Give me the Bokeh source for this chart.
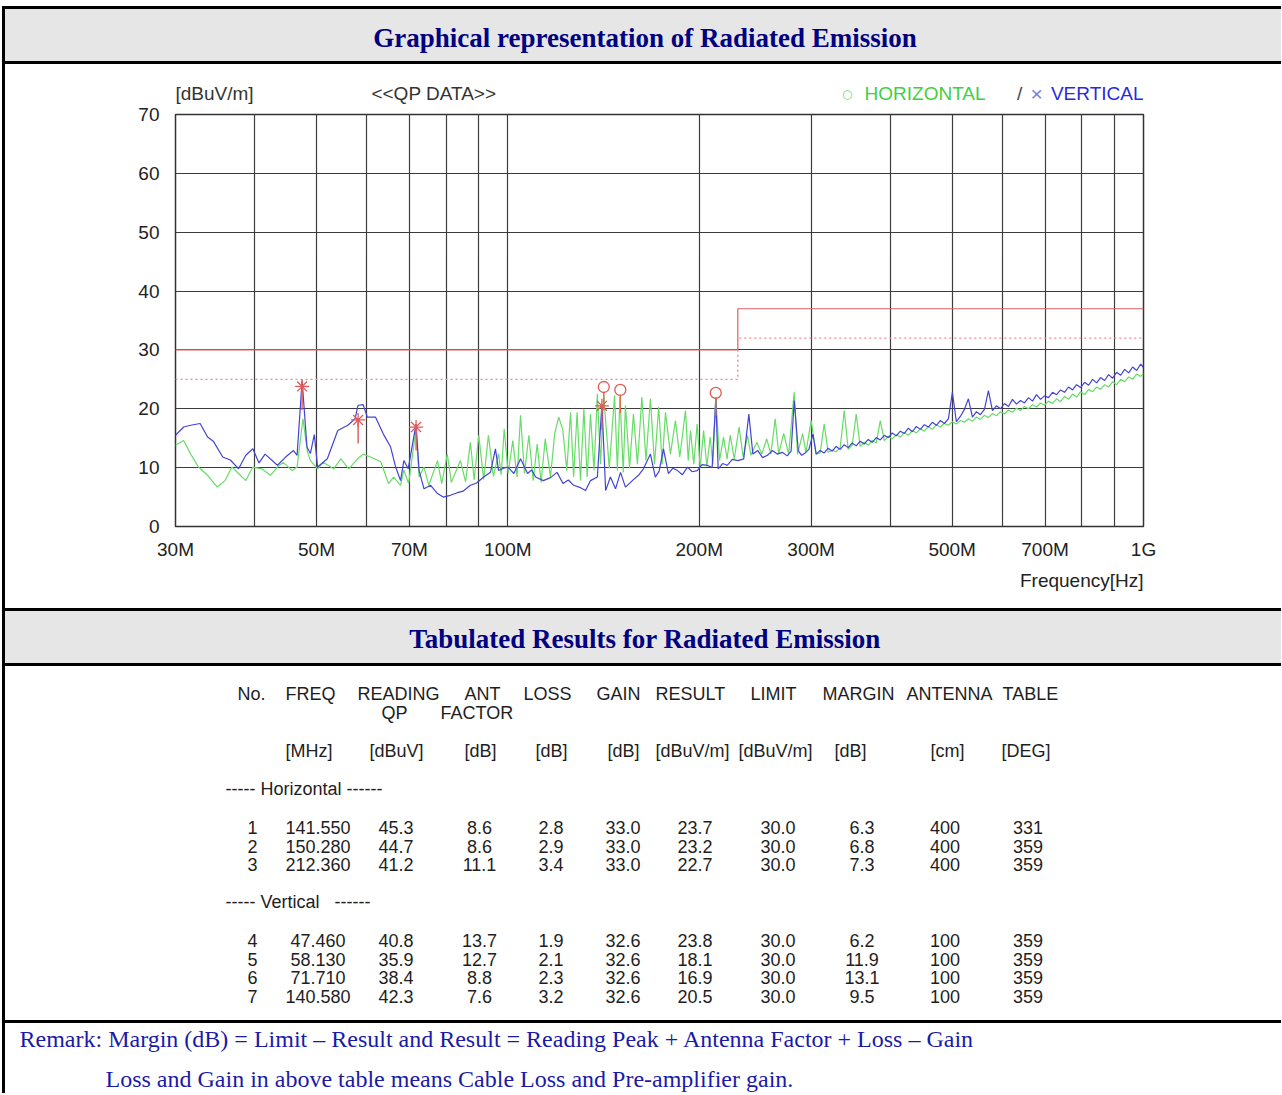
from bokeh.plotting import figure
from bokeh.models import Range1d, FixedTicker, Div, Title
from bokeh.layouts import column, row
from bokeh.core.properties import value
from bokeh.embed import file_html
from bokeh.resources import INLINE

# ---------------- chart data ----------------
freq_ticks = [30, 50, 70, 100, 200, 300, 500, 700, 1000]
freq_tick_labels = ["30M", "50M", "70M", "100M", "200M", "300M", "500M", "700M", "1G"]
freq_grid = [30, 40, 50, 60, 70, 80, 90, 100, 200, 300, 400, 500, 600, 700, 800, 900, 1000]
level_ticks = [0, 10, 20, 30, 40, 50, 60, 70]

limit_freq = [30, 230, 230, 1000]
limit_level = [30, 30, 37, 37]
limit_dotted_level = [25, 25, 32, 32]

vert_trace_freq = [
    30.0, 30.9, 31.7, 32.8, 33.7, 34.4, 35.6, 36.6, 37.7, 38.7, 39.7, 40.6, 41.5, 43.4, 44.7, 46.0,
    46.6, 47.46, 48.3, 48.9, 49.6, 50.2, 52.0, 54.0, 56.0, 57.5, 58.1, 59.2, 60.1, 61.9, 63.7, 65.4,
    66.6, 67.8, 68.6, 69.7, 71.7, 72.5, 73.8, 75.6, 77.5, 79.1, 81.2, 83.1, 85.0, 87.3, 89.3, 91.6,
    93.9, 95.6, 96.7, 98.4, 100.0, 102.2, 104.7, 107.4, 109.0, 110.6, 113.7, 116.7, 119.5, 122.1,
    124.5, 126.9, 130.1, 132.5, 134.9, 138.3, 140.6, 142.5, 145.0, 147.7, 150.4, 153.1, 157.0, 160.5,
    163.4, 167.6, 170.6, 173.0, 175.7, 178.9, 181.8, 184.9, 188.2, 191.7, 195.0, 198.6, 202.1, 205.8,
    209.6, 212.4, 214.2, 217.7, 221.3, 225.5, 230.0, 235.0, 239.4, 242.9, 247.3, 251.6, 256.1, 260.7,
    265.3, 270.2, 275.1, 279.0, 282.2, 286.3, 289.9, 293.6, 297.6, 302.0,
    305.5, 310.0, 314.5, 319.1, 323.8, 328.5, 333.3, 338.2, 343.1, 348.1, 353.2, 358.4, 363.6, 368.9,
    374.3, 379.8, 385.4, 391.0, 396.7, 402.5, 408.4, 414.4, 420.5, 426.6, 432.9, 439.2, 445.6, 452.1,
    458.7, 465.4, 472.2, 479.1, 486.1, 493.2, 500.4, 507.7, 515.1, 522.7, 530.3, 538.1, 546.0, 553.9,
    562.0, 570.2, 578.6, 587.0, 595.6, 604.3, 613.2, 622.1, 631.2, 640.4, 649.8, 659.3, 668.9, 678.7,
    688.6, 698.7, 708.9, 719.3, 729.8, 740.5, 751.3, 762.3, 773.4, 784.7, 796.2, 807.8, 819.6, 831.6,
    843.8, 856.1, 868.6, 881.3, 894.2, 907.3, 920.5, 934.0, 947.6, 961.5, 975.5, 989.8, 1000.0]
vert_trace_level = [
    15.5, 16.9, 17.2, 17.5, 15.2, 14.5, 11.8, 11.3, 9.8, 12.1, 13.2, 10.8, 12.3, 10.4, 11.8, 12.9,
    12.1, 24.8, 13.5, 12.4, 15.6, 10.1, 11.5, 16.3, 17.2, 18.3, 20.6, 20.7, 18.6, 18.6, 15.7, 13.5,
    10.1, 7.8, 11.2, 9.8, 17.4, 9.5, 6.4, 7.0, 5.6, 5.0, 5.3, 5.7, 6.0, 7.0, 7.4, 8.4,
    9.2, 13.2, 9.5, 9.9, 10.1, 9.0, 11.5, 9.0, 9.6, 8.4, 7.8, 8.3, 9.2, 7.3,
    7.9, 7.0, 6.6, 6.1, 7.8, 8.4, 20.8, 6.1, 8.4, 6.4, 9.2, 6.7, 7.8, 8.7,
    9.8, 12.3, 8.4, 9.4, 13.2, 9.0, 9.9, 9.5, 8.8, 10.1, 9.3, 9.5, 10.5, 10.4,
    10.0, 21.7, 9.8, 10.7, 10.4, 11.4, 11.2, 11.5, 19.1, 12.3, 12.9, 11.7, 12.1, 12.9,
    12.3, 12.6, 12.0, 12.8, 21.4, 12.9, 12.1, 12.5, 13.1, 15.7,
    12.3, 12.9, 12.5, 13.3, 12.8, 13.6, 13.1, 13.9, 13.4, 14.2, 13.7, 14.5, 14.0, 14.8,
    14.3, 15.1, 14.7, 15.5, 15.1, 15.9, 15.4, 16.2, 15.8, 16.7, 16.1, 17.0, 16.5, 17.3,
    16.9, 17.7, 17.2, 18.0, 17.5, 18.3, 22.8, 17.8, 18.7, 19.9, 21.7, 18.6, 19.5, 19.0,
    19.9, 23.1, 19.7, 20.5, 20.0, 20.9, 20.4, 21.6, 20.8, 21.4, 21.0, 21.9, 21.3, 22.4,
    21.6, 22.2, 21.9, 22.8, 22.4, 23.2, 22.8, 23.7, 23.2, 24.1, 23.6, 24.5, 24.0, 25.0,
    24.4, 25.3, 24.8, 25.8, 25.2, 26.2, 25.7, 26.7, 26.1, 27.1, 26.5, 27.6, 27.0]

horiz_trace_freq = [
    30.0, 30.9, 31.7, 32.6, 33.7, 34.9, 35.9, 36.8, 37.7, 38.7, 39.7, 41.0, 42.3, 43.4, 44.3, 45.8,
    46.6, 47.6, 48.4, 48.9, 50.2, 51.2, 53.2, 54.6, 56.2, 58.0, 59.2, 60.8, 63.1, 64.9, 66.1, 67.8,
    68.6, 69.8, 71.7, 72.5, 73.8, 75.1, 77.5, 78.7, 80.3, 81.5, 84.2, 85.8, 87.3, 88.5, 90.0, 91.6,
    93.2, 94.9, 96.7, 97.6, 98.7, 100.1, 101.8, 103.4, 104.7, 106.2, 107.9, 109.6, 111.2, 112.8,
    114.5, 116.7, 118.5, 120.2, 122.0, 123.8, 125.5, 126.9, 128.5, 130.1, 131.7, 133.3, 134.9, 136.6,
    138.3, 139.9, 141.5, 144.4, 147.2, 148.7, 150.1, 151.9, 153.1, 155.4, 157.6, 159.9, 162.5, 164.9,
    167.6, 170.1, 172.7, 174.9, 177.0, 180.2, 183.5, 186.4, 190.3, 192.2, 193.8, 196.1, 198.5, 200.7,
    203.2, 205.6, 208.1, 210.1, 212.4, 215.3, 218.4, 221.2, 223.8, 227.1, 231.1, 234.5, 238.3, 241.2,
    246.4, 250.9, 255.4, 259.3, 263.4, 266.7, 271.6, 276.6, 282.1, 285.6, 290.9, 294.4, 300.0,
    305.5, 310.0, 314.5, 319.1, 323.8, 328.5, 333.3, 338.2, 343.1, 348.1, 353.2, 358.4, 363.6, 368.9,
    374.3, 379.8, 385.4, 391.0, 396.7, 402.5, 408.4, 414.4, 420.5, 426.6, 432.9, 439.2, 445.6, 452.1,
    458.7, 465.4, 472.2, 479.1, 486.1, 493.2, 500.4, 507.7, 515.1, 522.7, 530.3, 538.1, 546.0, 553.9,
    562.0, 570.2, 578.6, 587.0, 595.6, 604.3, 613.2, 622.1, 631.2, 640.4, 649.8, 659.3, 668.9, 678.7,
    688.6, 698.7, 708.9, 719.3, 729.8, 740.5, 751.3, 762.3, 773.4, 784.7, 796.2, 807.8, 819.6, 831.6,
    843.8, 856.1, 868.6, 881.3, 894.2, 907.3, 920.5, 934.0, 947.6, 961.5, 975.5, 989.8, 1000.0]
horiz_trace_level = [
    13.8, 14.6, 12.3, 10.1, 8.7, 6.7, 7.8, 10.1, 9.0, 7.8, 10.1, 9.8, 8.7, 10.1, 10.9, 9.5,
    10.1, 18.3, 12.6, 11.2, 9.8, 10.9, 9.8, 11.5, 9.8, 11.5, 12.3, 11.8, 11.0, 7.3, 8.4, 7.0,
    9.6, 7.3, 16.6, 8.4, 10.1, 7.0, 11.2, 7.3, 12.3, 7.5, 11.2, 7.6, 14.3, 7.9, 15.5, 8.0,
    15.5, 8.5, 12.4, 8.8, 16.6, 9.0, 14.6, 8.4, 18.9, 9.0, 15.5, 7.8, 14.0, 7.5,
    14.9, 8.4, 15.8, 18.6, 16.5, 9.5, 19.4, 8.4, 19.4, 7.8, 20.0, 8.4, 19.1, 9.5,
    22.5, 10.6, 22.3, 9.9, 22.3, 9.5, 22.0, 9.2, 20.6, 9.9, 19.1, 10.6, 22.0, 11.2,
    21.7, 10.6, 20.3, 10.6, 19.4, 12.3, 18.0, 11.8, 19.7, 11.2, 16.3, 10.6, 17.4, 9.9,
    16.3, 10.2, 15.2, 10.6, 22.0, 11.2, 15.2, 11.5, 15.5, 11.5, 16.9, 11.8, 15.5, 12.1,
    14.3, 12.3, 14.9, 12.3, 18.3, 12.3, 15.8, 12.3, 22.8, 12.3, 15.8, 12.6, 18.0,
    12.3, 12.5, 17.4, 12.6, 13.0, 12.7, 13.4, 19.7, 13.1, 13.8, 19.1, 13.6, 14.3, 13.8,
    14.6, 14.2, 18.0, 14.6, 15.3, 14.9, 15.6, 15.2, 16.0, 15.5, 16.3, 15.9, 16.6, 16.2,
    17.0, 16.5, 17.3, 16.9, 17.5, 17.2, 17.8, 17.4, 18.0, 17.7, 18.3, 17.9, 18.6, 18.2,
    18.9, 18.5, 19.2, 18.8, 19.5, 19.1, 19.8, 19.4, 20.1, 19.7, 20.4, 20.0, 20.7, 20.3,
    21.0, 20.6, 21.3, 20.9, 21.7, 21.2, 22.1, 21.6, 22.5, 22.0, 22.9, 22.4, 23.3, 22.9,
    23.7, 23.3, 24.1, 23.7, 24.6, 24.1, 25.0, 24.6, 25.4, 25.0, 25.9, 25.5, 26.0]

# ---------------- table data ----------------
row_no = [1, 2, 3, 4, 5, 6, 7]
row_pol = ["H", "H", "H", "V", "V", "V", "V"]
row_freq = [141.550, 150.280, 212.360, 47.460, 58.130, 71.710, 140.580]
row_reading = [45.3, 44.7, 41.2, 40.8, 35.9, 38.4, 42.3]
row_ant_factor = [8.6, 8.6, 11.1, 13.7, 12.7, 8.8, 7.6]
row_loss = [2.8, 2.9, 3.4, 1.9, 2.1, 2.3, 3.2]
row_gain = [33.0, 33.0, 33.0, 32.6, 32.6, 32.6, 32.6]
row_result = [23.7, 23.2, 22.7, 23.8, 18.1, 16.9, 20.5]
row_limit = [30.0, 30.0, 30.0, 30.0, 30.0, 30.0, 30.0]
row_margin = [6.3, 6.8, 7.3, 6.2, 11.9, 13.1, 9.5]
row_antenna = [400, 400, 400, 100, 100, 100, 100]
row_table = [331, 359, 359, 359, 359, 359, 359]

col_head1 = ["No.", "FREQ", "READING", "ANT", "LOSS", "GAIN", "RESULT", "LIMIT", "MARGIN", "ANTENNA", "TABLE"]
col_head2 = ["QP", "FACTOR"]
col_units = ["[MHz]", "[dBuV]", "[dB]", "[dB]", "[dB]", "[dBuV/m]", "[dBuV/m]", "[dB]", "[cm]", "[DEG]"]
section_labels = ["----- Horizontal ------", "----- Vertical \u00a0 ------"]

title_graph = "Graphical representation of Radiated Emission"
title_table = "Tabulated Results for Radiated Emission"
remark_1 = "Remark: Margin (dB) = Limit \u2013 Result and Result = Reading Peak + Antenna Factor + Loss \u2013 Gain"
remark_2 = "Loss and Gain in above table means Cable Loss and Pre-amplifier gain."

# ---------------- layout helpers ----------------
W = 1276           # figure width (page x 5 .. 1281)
BL, BR = 170, 138  # borders: frame spans page x 175 .. 1143
SANS = value("Liberation Sans")
SERIF = value("Liberation Serif")
GRAY = "#e6e6e6"


def blank(height, bg, log_x=False):
    kw = dict(x_axis_type="log", x_range=Range1d(30, 1000)) if log_x else dict(x_range=Range1d(175, 1143))
    f = figure(width=W, height=height, y_range=Range1d(height, 0),
               x_axis_location=None, y_axis_location=None,
               min_border_left=BL, min_border_right=BR, min_border_top=0, min_border_bottom=0,
               outline_line_color=None, background_fill_color=bg, border_fill_color=bg,
               toolbar_location=None, output_backend="svg", styles={"background-color": bg}, **kw)
    f.grid.visible = False
    return f


def hline():
    return Div(width=W, height=3, margin=0, styles={"background-color": "black"})


def band(title, y):
    f = blank(52, GRAY)
    f.text(x=[644.5], y=[y], text=[title], text_align="center", text_baseline="middle",
           text_font=SERIF, text_font_style="bold", text_font_size="27px", text_color="#000080")
    return f


head1 = band(title_graph, 28.5)
head2 = band(title_table, 27.5)

# ---------------- chart ----------------
p = figure(width=W, height=463, x_axis_type="log", x_range=Range1d(30, 1000), y_range=Range1d(0, 70),
           min_border_left=BL, min_border_right=BR, min_border_top=10, min_border_bottom=41,
           toolbar_location=None, output_backend="svg", background_fill_color="white",
           border_fill_color="white", outline_line_color="#333333", outline_line_width=1.5)
p.xaxis.ticker = FixedTicker(ticks=freq_ticks)
p.xaxis.major_label_overrides = dict(zip(freq_ticks, freq_tick_labels))
p.yaxis.ticker = FixedTicker(ticks=level_ticks)
p.xgrid.ticker = FixedTicker(ticks=freq_grid)
for ax in (p.xaxis, p.yaxis):
    ax.axis_line_color = None
    ax.major_tick_line_color = None
    ax.minor_tick_line_color = None
    ax.major_label_text_font = "Liberation Sans"
    ax.major_label_text_font_size = "19px"
    ax.major_label_text_color = "#222222"
p.yaxis.major_label_standoff = 10
p.xaxis.major_label_standoff = 6
for g in (p.xgrid, p.ygrid):
    g.grid_line_color = "#3c3c3c"
    g.grid_line_width = 1.2

p.line(limit_freq, limit_level, line_color="#e06060", line_width=1.2)
p.line(limit_freq, limit_dotted_level, line_color="#f08a8a", line_width=1.4, line_dash="2 3")

p.line(horiz_trace_freq, horiz_trace_level, line_color="#66dd66", line_width=1.2)
p.line(vert_trace_freq, vert_trace_level, line_color="#4444d4", line_width=1.2)

vf = [f for f, pol in zip(row_freq, row_pol) if pol == "V"]
vl = [r for r, pol in zip(row_result, row_pol) if pol == "V"]
hf = [f for f, pol in zip(row_freq, row_pol) if pol == "H"]
hl = [r for r, pol in zip(row_result, row_pol) if pol == "H"]
p.segment(x0=vf, y0=vl, x1=vf, y1=[v - 4.0 for v in vl], line_color="#e05a5a", line_width=1.4)
p.scatter(vf, vl, marker="asterisk", size=14, line_color="#e05a5a", line_width=1.3)
p.segment(x0=hf, y0=[v - 0.8 for v in hl], x1=hf, y1=[v - 3.9 for v in hl], line_color="#e07040",
          line_width=1.4)
p.scatter(hf, hl, marker="circle", size=11, fill_color=None, line_color="#e05a50", line_width=1.3)

# strip above the chart: unit, mode and legend
top = blank(40, "white", log_x=True)
ty = 29
t_kw = dict(text_baseline="middle", text_font=SANS, text_font_size="19px")
top.text(x=[30, 61.0], y=[ty, ty], text=["[dBuV/m]", "<<QP DATA>>"], text_align="left",
         text_color="#333333", **t_kw)
top.text(x=[342.0], y=[ty], text=["\u25cb"], text_align="center", text_baseline="middle",
         text_font=value("DejaVu Sans"), text_font_size="12px", text_color="#66dd66")
top.text(x=[364.0], y=[ty], text=["HORIZONTAL"], text_align="left", text_color="#3fd03f", **t_kw)
top.text(x=[638.5], y=[ty], text=["/"], text_align="center", text_color="#444455", **t_kw)
top.text(x=[678.7], y=[ty], text=["\u00d7"], text_align="center", text_baseline="middle",
         text_font=SANS, text_font_size="21px", text_color="#7a7ae6")
top.text(x=[1000], y=[ty], text=["VERTICAL"], text_align="right", text_color="#2a2ad8", **t_kw)

# strip below the chart: axis title
bot = blank(41, "white", log_x=True)
bot.text(x=[1000], y=[13], text=["Frequency[Hz]"], text_align="right", text_color="#222222", **t_kw)

# ---------------- table ----------------
t = blank(354, "white")
head1_x = [237, 285, 357, 464, 523, 596, 655, 750, 822, 906, 1002]
head2_x = [381, 440]
units_x = [285, 369, 464, 535, 607, 655, 738, 834, 930, 1001]
txt = dict(text_baseline="middle", text_font=SANS, text_font_size="18px", text_color="#1e1e1e")
t.text(x=head1_x, y=[27] * len(col_head1), text=col_head1, text_align="left", **txt)
t.text(x=head2_x, y=[46] * len(col_head2), text=col_head2, text_align="left", **txt)
t.text(x=units_x, y=[84] * len(col_units), text=col_units, text_align="left", **txt)
t.text(x=[225, 225], y=[122, 235], text=section_labels, text_align="left", **txt)

row_y = [161, 179.5, 198, 274, 292.5, 311, 330]
col_cx = [252, 317.5, 395.5, 479, 550.5, 622.5, 694.5, 777.5, 861.5, 944.5, 1027.5]
columns = [
    [str(v) for v in row_no],
    ["%.3f" % v for v in row_freq],
    ["%.1f" % v for v in row_reading],
    ["%.1f" % v for v in row_ant_factor],
    ["%.1f" % v for v in row_loss],
    ["%.1f" % v for v in row_gain],
    ["%.1f" % v for v in row_result],
    ["%.1f" % v for v in row_limit],
    ["%.1f" % v for v in row_margin],
    [str(v) for v in row_antenna],
    [str(v) for v in row_table],
]
for cx, col in zip(col_cx, columns):
    t.text(x=[cx] * len(col), y=row_y, text=col, text_align="center", **txt)

# ---------------- remark ----------------
r = blank(70, "white")
rk = dict(align="left", text_font="Liberation Serif", text_font_size="24px", text_font_style="normal",
          text_color="#1a1aa8", vertical_align="bottom")
r.add_layout(Title(text=remark_1, offset=19 - 175, standoff=0, **rk), "above")
r.add_layout(Title(text=remark_2, offset=105 - 175, standoff=4, **rk), "below")

main = column(hline(), head1, hline(), top, p, bot, hline(), head2, hline(), t, hline(), r, spacing=0)
bar = Div(width=3, height=1087, margin=0, styles={"background-color": "black"})
layout = row(bar, main, spacing=0, margin=(6, 0, 0, 2))

open("out.html", "w").write(file_html(layout, INLINE))
